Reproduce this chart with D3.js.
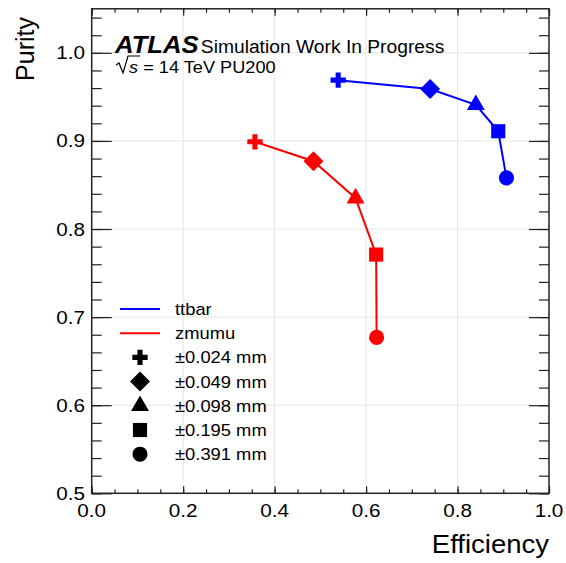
<!DOCTYPE html>
<html>
<head>
<meta charset="utf-8">
<title>Purity vs Efficiency</title>
<script src="https://cdn.jsdelivr.net/npm/d3@7"></script>
<style>
  body { margin: 0; background: #fff; }
  text { font-family: "Liberation Sans", Arial, sans-serif; fill: #000; }
</style>
</head>
<body>
<div id="chart"></div>
<script>
// data
var windows = ["\u00b10.024 mm", "\u00b10.049 mm", "\u00b10.098 mm", "\u00b10.195 mm", "\u00b10.391 mm"];
var shapes = ["plus", "diamond", "triangle", "square", "circle"];
var samples = ["ttbar", "zmumu"];
var colors = ["#0000ff", "#ff0000"];
var ttbarEff = [0.539, 0.740, 0.840, 0.889, 0.907];
var ttbarPur = [0.969, 0.959, 0.941, 0.911, 0.858];
var zmumuEff = [0.357, 0.485, 0.577, 0.622, 0.623];
var zmumuPur = [0.899, 0.877, 0.835, 0.771, 0.677];
var xTicks = [0, 0.2, 0.4, 0.6, 0.8, 1.0];
var yTicks = [0.5, 0.6, 0.7, 0.8, 0.9, 1.0];

var width = 566, height = 563;
var pl = 91.7, pr = 549, pt = 8.8, pb = 493.3;

var svg = d3.select("#chart").append("svg")
    .attr("width", width)
    .attr("height", height);

var x = d3.scaleLinear().domain([0, 1]).range([pl, pr]);
var y = d3.scaleLinear().domain([0.5, 1.05]).range([pb, pt]);

// grid
var grid = svg.append("g").attr("stroke", "#e6e6e6").attr("stroke-width", 1);
grid.selectAll(".gx").data(xTicks.slice(1, -1)).enter().append("line")
    .attr("x1", d => x(d)).attr("x2", d => x(d))
    .attr("y1", pt).attr("y2", pb);
grid.selectAll(".gy").data(yTicks.slice(1)).enter().append("line")
    .attr("x1", pl).attr("x2", pr)
    .attr("y1", d => y(d)).attr("y2", d => y(d));

// axes, ticks inside on all four sides
var xMinor = d3.range(0, 1.0001, 0.05);
var yMinor = d3.range(0.5, 1.0501, 0.02);

function tickAxis(axis, g, major, minor, majLen, minLen) {
  g.call(axis.tickValues(minor).tickSize(minLen).tickFormat(""));
  g.selectAll("path").remove();
  var g2 = g.append("g");
  g2.call(axis.tickValues(major).tickSize(majLen).tickFormat(""));
  g2.selectAll("path").remove();
  g.selectAll("line").attr("stroke", "#222").attr("stroke-width", 1.2);
}

tickAxis(d3.axisTop(x), svg.append("g").attr("transform", "translate(0," + pb + ")"), xTicks, xMinor, 7, 4);
tickAxis(d3.axisBottom(x), svg.append("g").attr("transform", "translate(0," + pt + ")"), xTicks, xMinor, 7, 4);
tickAxis(d3.axisRight(y), svg.append("g").attr("transform", "translate(" + pl + ",0)"), yTicks, yMinor, 20, 10);
tickAxis(d3.axisLeft(y), svg.append("g").attr("transform", "translate(" + pr + ",0)"), yTicks, yMinor, 20, 10);

svg.append("rect")
    .attr("x", pl).attr("y", pt)
    .attr("width", pr - pl).attr("height", pb - pt)
    .attr("fill", "none").attr("stroke", "#222").attr("stroke-width", 1.5);

// tick labels
svg.selectAll(".xl").data(xTicks).enter().append("text")
    .attr("transform", d => "translate(" + x(d) + ",516.5) scale(1.15,1)")
    .attr("text-anchor", "middle")
    .style("font-size", "18px")
    .text(d => d.toFixed(1));
svg.selectAll(".yl").data(yTicks).enter().append("text")
    .attr("transform", d => "translate(85," + (y(d) + 6.5) + ") scale(1.15,1)")
    .attr("text-anchor", "end")
    .style("font-size", "18px")
    .text(d => d.toFixed(1));

// axis titles
svg.append("text")
    .attr("transform", "translate(" + pr + ",553) scale(1.1,1)")
    .attr("text-anchor", "end")
    .style("font-size", "25px")
    .text("Efficiency");
svg.append("text")
    .attr("transform", "translate(34,17) rotate(-90)")
    .attr("text-anchor", "end")
    .style("font-size", "25px")
    .text("Purity");

// ATLAS label
var lab = svg.append("text").attr("transform", "translate(115,53) scale(1.07,1)");
lab.append("tspan").style("font-size", "24px").style("font-weight", "bold").style("font-style", "italic").text("ATLAS");
lab.append("tspan").attr("dx", 2).style("font-size", "18px").text("Simulation Work In Progress");

var lab2 = svg.append("text").attr("transform", "translate(129,73) scale(1.07,1)").style("font-size", "17px");
lab2.append("tspan").style("font-style", "italic").text("s");
lab2.append("tspan").text(" = 14 TeV PU200");
// sqrt sign
svg.append("path")
    .attr("d", "M116,65 L119,63 L123,73 L128,56 L140,56")
    .attr("fill", "none").attr("stroke", "#000").attr("stroke-width", 1.2);

// markers
var symbolTypes = {
  plus: d3.symbolCross,
  triangle: d3.symbolTriangle,
  square: d3.symbolSquare,
  circle: d3.symbolCircle
};
var symbolSizes = { plus: 130, triangle: 140, square: 200, circle: 180 };

function markerPath(s) {
  if (s == "diamond") return d3.symbol().type(d3.symbolSquare).size(200)();
  return d3.symbol().type(symbolTypes[s]).size(symbolSizes[s])();
}
function markerRot(s) { return s == "diamond" ? " rotate(45)" : ""; }

var series = [
  { name: samples[0], color: colors[0], eff: ttbarEff, pur: ttbarPur },
  { name: samples[1], color: colors[1], eff: zmumuEff, pur: zmumuPur }
];

var line = d3.line().x(d => x(d[0])).y(d => y(d[1]));

series.forEach(function(s) {
  var pts = s.eff.map((e, i) => [e, s.pur[i]]);
  svg.append("path")
      .attr("d", line(pts))
      .attr("fill", "none")
      .attr("stroke", s.color)
      .attr("stroke-width", 2);
  svg.selectAll(null).data(pts).enter().append("path")
      .attr("transform", (d, i) => "translate(" + x(d[0]) + "," + y(d[1]) + ")" + markerRot(shapes[i]))
      .attr("d", (d, i) => markerPath(shapes[i]))
      .attr("fill", s.color);
});

// legend
var legY0 = 309, legStep = 24.2;
series.forEach(function(s, i) {
  svg.append("line")
      .attr("x1", 120).attr("x2", 160)
      .attr("y1", legY0 + i * legStep).attr("y2", legY0 + i * legStep)
      .attr("stroke", s.color).attr("stroke-width", 2);
  svg.append("text")
      .attr("transform", "translate(175," + (legY0 + i * legStep + 6) + ") scale(1.08,1)")
      .style("font-size", "17px")
      .text(s.name);
});
windows.forEach(function(w, i) {
  var yy = legY0 + (i + 2) * legStep;
  svg.append("path")
      .attr("transform", "translate(140," + yy + ")" + markerRot(shapes[i]))
      .attr("d", markerPath(shapes[i]))
      .attr("fill", "#000");
  svg.append("text")
      .attr("transform", "translate(175," + (yy + 6) + ") scale(1.08,1)")
      .style("font-size", "17px")
      .text(w);
});
</script>
</body>
</html>
